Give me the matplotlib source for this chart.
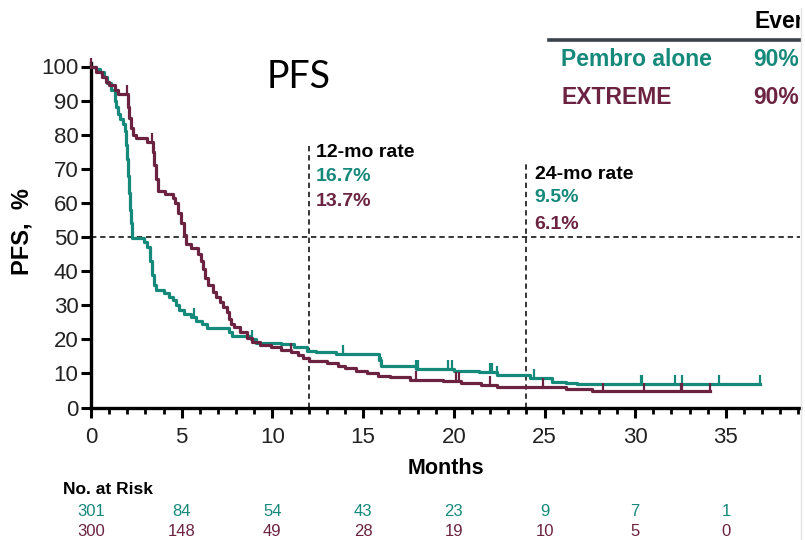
import numpy as np
import matplotlib
matplotlib.use("Agg")
import matplotlib.pyplot as plt
from matplotlib.ticker import MultipleLocator
from matplotlib.transforms import Bbox, TransformedBbox

# colours
TEAL = "#15897a"
MAROON = "#6b2341"

# KM curves (time in months, PFS %)
pembro_t = [0, 0.3, 0.5, 0.7, 0.9, 1.1, 1.3, 1.4, 1.5, 1.6, 1.75, 1.9, 1.95, 2.0, 2.05,
            2.1, 2.15, 2.2, 2.28, 2.9, 3.1, 3.25, 3.35, 3.45, 3.6, 4.0, 4.3, 4.5, 4.7,
            4.85, 5.1, 5.5, 5.8, 6.1, 6.4, 7.6, 7.75, 8.8, 9.1, 10.5, 11.2, 11.9, 12.4,
            13.5, 15.9, 16.0, 17.9, 20.0, 21.4, 22.4, 24.2, 25.4, 26.2, 26.8, 36.9]
pembro_s = [100, 99.3, 98.3, 97, 95.3, 93, 90, 88, 86, 84.5, 83, 81, 77, 73, 68,
            63, 58, 54, 49.7, 48.5, 47, 43, 39, 36, 34.5, 33.5, 32.5, 31.5, 30,
            28.5, 27.3, 26.5, 25.5, 24.5, 23.2, 22, 21, 20.2, 19, 18.5, 17.8, 16.7, 16.2,
            15.6, 14, 12.3, 11.4, 10.7, 10.4, 9.5, 8.6, 7.6, 7.2, 6.8, 6.8]

extreme_t = [0, 0.3, 0.6, 0.8, 1.0, 1.3, 1.5, 2.05, 2.12, 2.2, 2.3, 2.5, 3.1, 3.4, 3.5,
             3.6, 3.7, 4.1, 4.5, 4.65, 4.8, 4.95, 5.1, 5.25, 5.5, 5.9, 6.05, 6.2, 6.3,
             6.45, 6.7, 6.9, 7.1, 7.3, 7.5, 7.6, 7.7, 7.9, 8.2, 8.6, 8.9, 9.3, 9.9,
             10.5, 11.0, 11.4, 11.7, 12.0, 13.0, 13.6, 14.0, 14.6, 15.2, 15.8, 16.5,
             17.6, 19.4, 20.4, 21.5, 22.4, 26.2, 27.6, 34.1]
extreme_s = [100, 98.5, 97, 95.5, 94.5, 93, 92, 88, 85, 82, 80, 79, 78, 75, 71,
             67, 63.5, 62.5, 61.5, 60, 57, 54, 50.5, 48, 46.8, 45, 43, 40.5, 38,
             36, 33.9, 32.5, 31, 29.5, 28, 26, 24.5, 23.5, 22, 20.5, 19.2, 18.2, 17.7,
             17, 16.3, 15.5, 14.5, 13.7, 13, 12.2, 11.5, 10.7, 10, 9.2, 8.8,
             8.2, 7.8, 7.2, 6.7, 6.1, 5.5, 4.7, 4.7]

# censoring marks
pembro_cens = [5.7, 8.9, 13.9, 16.0, 17.9, 18.0, 19.7, 19.9, 22.0, 22.1, 22.4,
               24.4, 30.3, 30.4, 32.2, 32.6, 34.6, 36.9]
extreme_cens = [0.0, 2.0, 3.35, 11.0, 17.9, 20.1, 20.3, 22.0, 24.9, 28.2, 30.5,
                32.5, 32.6, 34.1]

# number at risk
risk_times = [0, 5, 10, 15, 20, 25, 30, 35]
pembro_risk = [301, 84, 54, 43, 23, 9, 7, 1]
extreme_risk = [300, 148, 49, 28, 19, 10, 5, 0]

W, H = 805, 540
fig = plt.figure(figsize=(W / 100, H / 100), dpi=100)
plt.rcParams['font.family'] = ['Liberation Sans', 'DejaVu Sans']


def fx(px):
    return px / W


def fy(py):
    return 1 - py / H


# the source slide is cut at x=800
clip = TransformedBbox(Bbox([[0, 0], [800 / W, 1]]), fig.transFigure)

x0, x1 = 91, 800
ax = fig.add_axes([fx(x0), fy(407.5), fx(x1 - x0), (407.5 - 66.5) / H])
ax.set_xlim(0, (x1 - x0) / 18.14)
ax.set_ylim(0, 100)


def level(ts, ss, t):
    i = np.searchsorted(ts, t, side='right') - 1
    return ss[max(i, 0)]


for ts, ss, cens, col in [(pembro_t, pembro_s, pembro_cens, TEAL),
                          (extreme_t, extreme_s, extreme_cens, MAROON)]:
    ax.step(ts, ss, where='post', color=col, lw=2.3, clip_on=False, zorder=3)
    lv = [level(ts, ss, c) for c in cens]
    ax.vlines(cens, lv, np.array(lv) + 2.6, color=col, lw=1.6, clip_on=False, zorder=3)

# reference lines
ax.axhline(50, color='black', lw=1.1, ls=(0, (3.5, 2.5)), zorder=2)
ax.vlines([12, 24], 0, [77.6, 72.3], color='black', lw=1.1, ls=(0, (3.5, 2.5)), zorder=2)

for s in ['top', 'right']:
    ax.spines[s].set_visible(False)
for s in ['left', 'bottom']:
    ax.spines[s].set_linewidth(2.4)
ax.spines['left'].set_bounds(0, 101)

ax.xaxis.set_major_locator(MultipleLocator(5))
ax.xaxis.set_minor_locator(MultipleLocator(1))
ax.yaxis.set_major_locator(MultipleLocator(10))
ax.tick_params(which='major', length=7, width=2.2, labelsize=16, colors='black')
ax.tick_params(which='minor', length=4, width=2.0)
ax.tick_params(axis='x', pad=7)
ax.tick_params(axis='y', pad=2)
for lab in ax.get_xticklabels() + ax.get_yticklabels():
    lab.set_color('#222222')

ax.set_xlabel('Months', fontsize=15.5, fontweight='bold', labelpad=7)
fig.text(fx(22), fy(232), 'PFS,  %', rotation=90, fontsize=17, fontweight='bold',
         ha='center', va='center')

# rate annotations
fs = 14
ax.text(12.4, 74.8, '12-mo rate', fontsize=fs, fontweight='bold', va='center')
ax.text(12.4, 67.6, '16.7%', fontsize=fs, fontweight='bold', color=TEAL, va='center')
ax.text(12.4, 60.5, '13.7%', fontsize=fs, fontweight='bold', color=MAROON, va='center')
ax.text(24.45, 68.2, '24-mo rate', fontsize=fs, fontweight='bold', va='center')
ax.text(24.45, 61.7, '9.5%', fontsize=fs, fontweight='bold', color=TEAL, va='center')
ax.text(24.45, 53.8, '6.1%', fontsize=fs, fontweight='bold', color=MAROON, va='center')

# title
fig.text(fx(299), fy(77), 'PFS', fontsize=27, family=['Lato', 'DejaVu Sans'],
         ha='center', va='center')

# legend block (cut at the right edge like the source)
legend_texts = [
    fig.text(fx(754), fy(22), 'Events', fontsize=16.5, fontweight='bold', va='center'),
    fig.text(fx(561), fy(60), 'Pembro alone', fontsize=16.5, fontweight='bold', color=TEAL, va='center'),
    fig.text(fx(561), fy(98), 'EXTREME', fontsize=16.5, fontweight='bold', color=MAROON, va='center'),
    fig.text(fx(753), fy(60), '90%', fontsize=16.5, fontweight='bold', color=TEAL, va='center'),
    fig.text(fx(753), fy(98), '90%', fontsize=16.5, fontweight='bold', color=MAROON, va='center'),
]
for t in legend_texts:
    t.set_clip_box(clip)
    t.set_clip_on(True)
fig.add_artist(plt.Line2D([fx(549), fx(800)], [fy(40), fy(40)], color='#3b4248', lw=2.6))
fig.add_artist(plt.Line2D([fx(800.5), fx(800.5)], [0, fy(8)], color='#e4e4e4', lw=1))

# number at risk table
fig.text(fx(63), fy(490), 'No. at Risk', fontsize=12.5, fontweight='bold', va='center')
for t, a, b in zip(risk_times, pembro_risk, extreme_risk):
    xf = ax.transData.transform((t, 0))[0] / W
    fig.text(xf, fy(511), str(a), fontsize=12, color=TEAL, ha='center', va='center')
    fig.text(xf, fy(531), str(b), fontsize=12, color=MAROON, ha='center', va='center')

fig.savefig('out.png', dpi=100)
